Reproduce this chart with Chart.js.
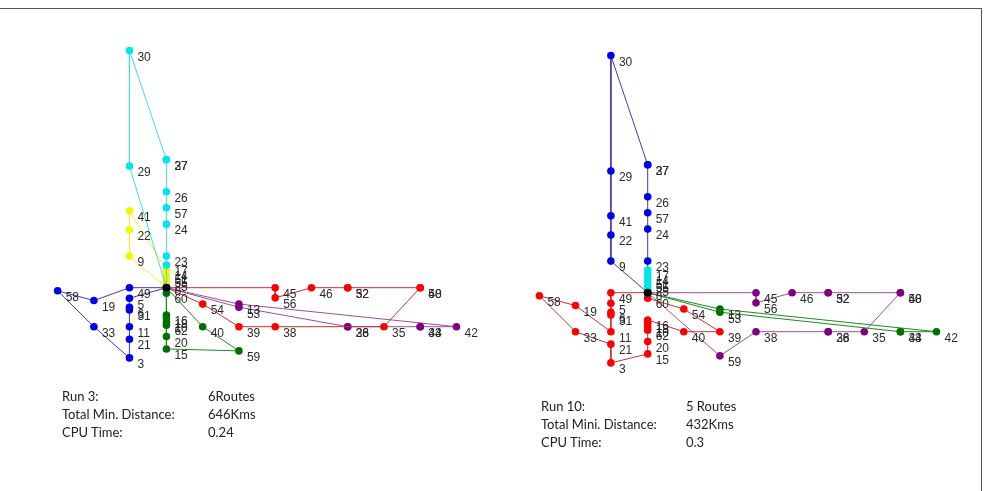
<!DOCTYPE html>
<html>
<head>
<meta charset="utf-8">
<script src="https://cdn.jsdelivr.net/npm/chart.js@4.4.1/dist/chart.umd.min.js"></script>
<style>
  body { margin: 0; background: #fff; }
  #wrap { position: relative; width: 984px; height: 491px; overflow: hidden; }
  #frame { position: absolute; left: 0; top: 8px; width: 981px; height: 490px;
           border-top: 1px solid #555; border-right: 1px solid #555; }
  canvas { position: absolute; top: 0; }
  .info { position: absolute; font: 13px Lato, "Open Sans", sans-serif; color: #222; line-height: 18px; }
  .info div { white-space: nowrap; }
  .info span { position: absolute; }
</style>
</head>
<body>
<div id="wrap">
  <div id="frame"></div>
  <canvas id="left" width="492" height="491" style="left:0"></canvas>
  <canvas id="right" width="492" height="491" style="left:492px"></canvas>
  <div class="info" style="left:62px; top:387px;">
    <div>Run 3:<span style="left:146px">6Routes</span></div>
    <div>Total Min. Distance:<span style="left:146px">646Kms</span></div>
    <div>CPU Time:<span style="left:146px">0.24</span></div>
  </div>
  <div class="info" style="left:541px; top:397px;">
    <div>Run 10:<span style="left:145px">5 Routes</span></div>
    <div>Total Mini. Distance:<span style="left:145px">432Kms</span></div>
    <div>CPU Time:<span style="left:145px">0.3</span></div>
  </div>
</div>
<script>
// node ids and their coordinates (same instance for both runs), node 1 is the depot
var nodeIds = [1, 30, 29, 27, 37, 26, 57, 24, 23, 41, 22, 9, 17, 14, 51, 55, 25, 8,
  58, 19, 33, 49, 5, 6, 31, 11, 21, 3, 60, 16, 18, 10, 62, 20, 15, 40, 59, 54, 39, 38,
  13, 53, 45, 56, 46, 32, 52, 48, 50, 28, 36, 35, 34, 43, 42];
var nodeX = [0, -1.02, -1.02, 0, 0, 0, 0, 0, 0, -1.02, -1.02, -1.02, 0, 0, 0, 0, 0, 0,
  -3, -2, -2, -1.02, -1.02, -1.02, -1.02, -1.02, -1.02, -1.02, 0, 0, 0, 0, 0, 0, 0, 1, 2, 1, 2, 3,
  2, 2, 3, 3, 4, 5, 5, 7, 7, 5, 5, 6, 7, 7, 8];
var nodeY = [0, 6.08, 3.12, 3.28, 3.28, 2.46, 2.05, 1.63, 0.81, 1.97, 1.48, 0.81, 0.58, 0.47, 0.37, 0.27, 0.17, 0.08,
  -0.08, -0.33, -1.0, 0, -0.27, -0.5, -0.57, -1.0, -1.32, -1.8, -0.14, -0.7, -0.78, -0.88, -0.96, -1.25, -1.57, -1.0, -1.62, -0.42, -1.0, -1.0,
  -0.42, -0.5, 0, -0.26, 0, 0, 0, 0, 0, -1, -1, -1, -1, -1, -1];

// Run 3 routes
var run3Cyan = [1, 17, 23, 24, 57, 26, 37, 27, 30, 29, 1];
var run3Yellow = [1, 8, 25, 55, 51, 14, 41, 22, 9, 1];
var run3Blue = [1, 49, 19, 58, 33, 3, 21, 11, 31, 6, 5, 1];
var run3Green = [1, 60, 16, 18, 10, 62, 20, 15, 59, 40, 1];
var run3Red = [1, 45, 56, 46, 32, 52, 48, 50, 35, 38, 39, 54, 1];
var run3Purple = [1, 13, 42, 43, 34, 36, 28, 53, 1];

// Run 10 routes
var run10Blue = [1, 23, 24, 57, 26, 37, 27, 30, 29, 41, 22, 9, 1];
var run10Cyan = [1, 8, 25, 55, 51, 14, 17, 1];
var run10Red = [1, 49, 5, 6, 31, 11, 19, 58, 33, 21, 3, 15, 20, 62, 10, 18, 16, 40, 39, 54, 60, 1];
var run10Green = [1, 13, 42, 34, 43, 53, 1];
var run10Purple = [1, 45, 56, 46, 32, 52, 48, 50, 35, 36, 28, 38, 59, 1];

function pts(route) {
  return route.map(function (id) {
    var i = nodeIds.indexOf(id);
    return { x: nodeX[i], y: nodeY[i], id: id };
  });
}

function routeSet(route, line, dot) {
  return {
    data: pts(route),
    showLine: true,
    borderColor: line,
    borderWidth: 1,
    pointRadius: 3.8,
    pointBorderWidth: 0,
    pointBackgroundColor: dot,
    clip: false
  };
}

var labelPlugin = {
  id: 'nodeLabels',
  afterDatasetsDraw: function (chart) {
    var ctx = chart.ctx, sx = chart.scales.x, sy = chart.scales.y;
    ctx.save();
    ctx.font = '12px "Liberation Sans", Arial, sans-serif';
    ctx.fillStyle = '#2b2b2b';
    ctx.textBaseline = 'middle';
    var done = {};
    chart.data.datasets.forEach(function (ds) {
      ds.data.forEach(function (p) {
        if (p.id === 1 || done[p.id]) return;
        done[p.id] = true;
        ctx.fillText(String(p.id), sx.getPixelForValue(p.x) + 8, sy.getPixelForValue(p.y) + 7);
      });
    });
    ctx.restore();
  }
};

function makeChart(id, sets, xr, yr) {
  var depot = {
    data: pts([1]),
    pointRadius: 4,
    pointBorderWidth: 0,
    pointBackgroundColor: '#000',
    showLine: false,
    clip: false
  };
  return new Chart(document.getElementById(id).getContext('2d'), {
    type: 'scatter',
    data: { datasets: [depot].concat(sets) },
    options: {
      responsive: false,
      animation: false,
      layout: { padding: 0, autoPadding: false },
      plugins: { legend: { display: false }, tooltip: { enabled: false } },
      scales: {
        x: { type: 'linear', display: false, min: xr[0], max: xr[1] },
        y: { type: 'linear', display: false, min: yr[0], max: yr[1] }
      }
    },
    plugins: [labelPlugin]
  });
}

makeChart('left', [
  routeSet(run3Cyan, '#40dede', '#00e4ee'),
  routeSet(run3Yellow, '#f0f030', '#f5f500'),
  routeSet(run3Blue, '#3c3cb4', '#0000e6'),
  routeSet(run3Green, '#1e8a1e', '#007000'),
  routeSet(run3Red, '#c83232', '#ff0000'),
  routeSet(run3Purple, '#9a509a', '#800080')
], [-4.59, 8.98], [-5.213, 7.377]);

makeChart('right', [
  routeSet(run10Cyan, '#40dede', '#00e4ee'),
  routeSet(run10Blue, '#3c3cb4', '#0000e6'),
  routeSet(run10Red, '#c83232', '#ff0000'),
  routeSet(run10Green, '#1e8a1e', '#007000'),
  routeSet(run10Purple, '#9a509a', '#800080')
], [-4.313, 9.316], [-5.085, 7.505]);
</script>
</body>
</html>
